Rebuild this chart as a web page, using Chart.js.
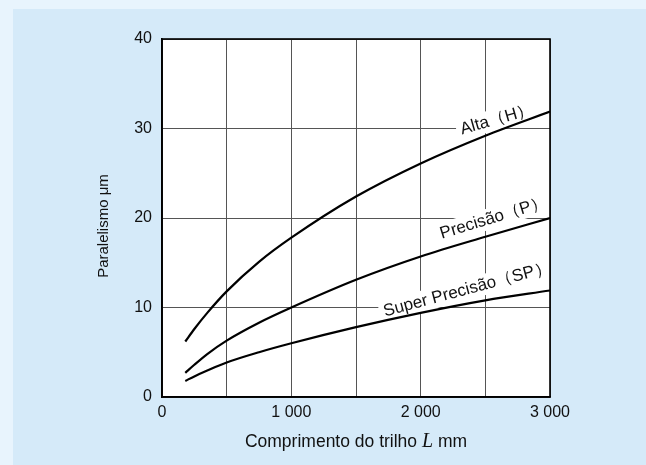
<!DOCTYPE html>
<html>
<head>
<meta charset="utf-8">
<script src="https://cdn.jsdelivr.net/npm/chart.js@4.4.1/dist/chart.umd.min.js"></script>
<style>
  html, body { margin: 0; padding: 0; }
  body { width: 646px; height: 465px; background: #e8f4fd; position: relative; overflow: hidden; }
  #panel { position: absolute; left: 13px; top: 9px; right: 0; bottom: 0; background: #d5eaf9; }
  #wrap { position: absolute; left: 0; top: 0; width: 646px; height: 465px; }
</style>
</head>
<body>
<div id="panel"></div>
<div id="wrap"><canvas id="myChart" width="646" height="465"></canvas></div>
<script>
// comprimento do trilho (mm)
const comprimentos = [180, 250, 350, 500, 750, 1000, 1500, 2000, 2500, 3000];
// paralelismo (um) por classe de precisao
const alta = [6.2, 7.6, 9.4, 11.8, 15.1, 17.8, 22.4, 26.1, 29.2, 31.9];
const precisao = [2.7, 3.6, 4.8, 6.3, 8.3, 10.0, 13.1, 15.7, 17.9, 20.0];
const superPrecisao = [1.8, 2.3, 2.95, 3.85, 5.0, 6.0, 7.8, 9.4, 10.8, 11.9];

// rotulos das curvas: texto, posicao (dados), angulo
const rotulos = [
  { texto: 'Alta（H）', x: 2590, y: 31.0, ang: -16 },
  { texto: 'Precisão（P）', x: 2565, y: 20.0, ang: -17 },
  { texto: 'Super Precisão（SP）', x: 2360, y: 12.0, ang: -15 }
];

const xTicks = [0, 1000, 2000, 3000];
const FONTE = '"Liberation Sans", Arial, sans-serif';

function pontos(valores) {
  return comprimentos.map((l, i) => ({ x: l, y: valores[i] }));
}

function serie(valores) {
  return {
    data: pontos(valores),
    borderColor: '#000',
    borderWidth: 2.2,
    pointRadius: 0,
    fill: false,
    cubicInterpolationMode: 'monotone'
  };
}

// fundo branco e moldura da area do grafico
const moldura = {
  id: 'moldura',
  beforeDraw(chart) {
    const a = chart.chartArea;
    const ctx = chart.ctx;
    ctx.save();
    ctx.fillStyle = '#fff';
    ctx.fillRect(a.left, a.top, a.right - a.left, a.bottom - a.top);
    ctx.restore();
  },
  afterDatasetsDraw(chart) {
    const a = chart.chartArea;
    const ctx = chart.ctx;
    ctx.save();
    ctx.strokeStyle = '#000';
    ctx.lineWidth = 1.6;
    ctx.strokeRect(a.left, a.top, a.right - a.left, a.bottom - a.top);
    ctx.restore();
  }
};

// rotulos inclinados com fundo branco
const rotulosPlugin = {
  id: 'rotulos',
  beforeDatasetsDraw(chart) {
    const ctx = chart.ctx;
    const a = chart.chartArea;
    const sx = chart.scales.x, sy = chart.scales.y;
    ctx.save();
    ctx.beginPath();
    ctx.rect(a.left, a.top, a.right - a.left, a.bottom - a.top);
    ctx.clip();
    ctx.font = '17px ' + FONTE;
    rotulos.forEach(r => {
      const px = sx.getPixelForValue(r.x);
      const py = sy.getPixelForValue(r.y);
      const w = ctx.measureText(r.texto).width;
      ctx.save();
      ctx.translate(px, py);
      ctx.rotate(r.ang * Math.PI / 180);
      ctx.fillStyle = '#fff';
      ctx.fillRect(-w / 2 - 4, -11, w + 8, 21);
      ctx.fillStyle = '#111';
      ctx.textAlign = 'center';
      ctx.textBaseline = 'middle';
      ctx.fillText(r.texto, 0, 0);
      ctx.restore();
    });
    ctx.restore();
  },
  afterDraw(chart) {
    const ctx = chart.ctx;
    const a = chart.chartArea;
    ctx.save();
    ctx.fillStyle = '#111';
    // titulo do eixo y
    ctx.font = '15px ' + FONTE;
    ctx.translate(104, 226);
    ctx.rotate(-Math.PI / 2);
    ctx.textAlign = 'center';
    ctx.textBaseline = 'middle';
    ctx.fillText('Paralelismo μm', 0, 0);
    ctx.restore();

    // titulo do eixo x com L em italico
    ctx.save();
    ctx.fillStyle = '#111';
    ctx.textBaseline = 'middle';
    const parte1 = 'Comprimento do trilho ';
    const parte2 = 'L';
    const parte3 = ' mm';
    const f1 = '17.5px ' + FONTE;
    const f2 = 'italic 20px "Liberation Serif", "Times New Roman", serif';
    ctx.font = f1;
    const w1 = ctx.measureText(parte1).width;
    const w3 = ctx.measureText(parte3).width;
    ctx.font = f2;
    const w2 = ctx.measureText(parte2).width;
    const x0 = (a.left + a.right) / 2 - (w1 + w2 + w3) / 2;
    const y0 = 442;
    ctx.font = f1;
    ctx.fillText(parte1, x0, y0);
    ctx.font = f2;
    ctx.fillText(parte2, x0 + w1, y0);
    ctx.font = f1;
    ctx.fillText(parte3, x0 + w1 + w2, y0);
    ctx.restore();
  }
};

const ctx = document.getElementById('myChart').getContext('2d');
const myChart = new Chart(ctx, {
  type: 'line',
  data: {
    datasets: [serie(alta), serie(precisao), serie(superPrecisao)]
  },
  options: {
    responsive: false,
    animation: false,
    layout: { padding: { left: 62, right: 96, top: 39, bottom: 0 } },
    plugins: { legend: { display: false }, tooltip: { enabled: false } },
    scales: {
      x: {
        type: 'linear',
        min: 0,
        max: 3000,
        afterFit(scale) { scale.height = 68; },
        grid: { color: '#555', lineWidth: 1, drawTicks: false },
        border: { color: '#000', width: 1.6 },
        ticks: {
          stepSize: 500,
          autoSkip: false,
          maxRotation: 0,
          padding: 6,
          color: '#111',
          font: { family: FONTE, size: 16 },
          callback: (v) => xTicks.includes(v) ? (v === 0 ? '0' : (v / 1000) + ' 000') : ''
        }
      },
      y: {
        min: 0,
        max: 40,
        afterFit(scale) { scale.width = 100; },
        grid: { color: '#555', lineWidth: 1, drawTicks: false },
        border: { color: '#000', width: 1.6 },
        ticks: {
          stepSize: 10,
          padding: 10,
          color: '#111',
          font: { family: FONTE, size: 16 }
        }
      }
    }
  },
  plugins: [moldura, rotulosPlugin]
});
</script>
</body>
</html>
